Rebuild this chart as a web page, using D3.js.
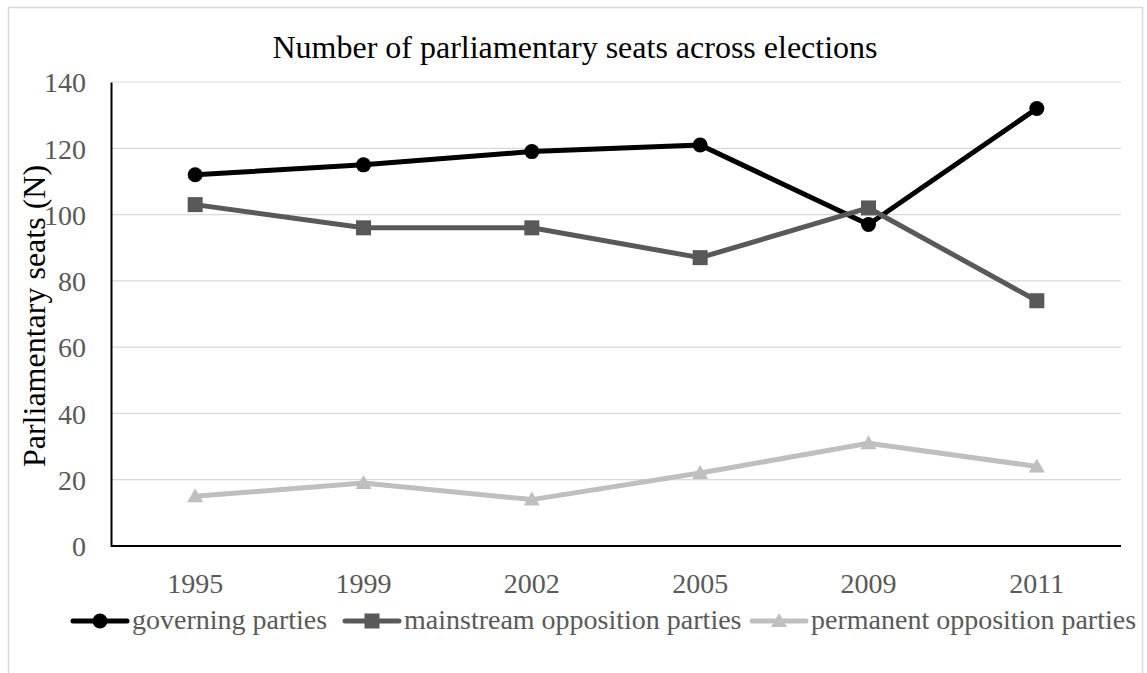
<!DOCTYPE html>
<html><head><meta charset="utf-8">
<script src="https://cdn.jsdelivr.net/npm/d3@7"></script>
<style>body{margin:0;background:#fff}svg{display:block}text{font-family:"Liberation Serif","Times New Roman",serif}</style>
</head><body>
<svg id="c" width="1147" height="673"></svg>
<script>
const years = ["1995","1999","2002","2005","2009","2011"];
const governing = [112,115,119,121,97,132];
const mainstream = [103,96,96,87,102,74];
const permanent = [15,19,14,22,31,24];
const yTicks = [0,20,40,60,80,100,120,140];
const seriesNames = ["governing parties","mainstream opposition parties","permanent opposition parties"];

const series = [
  {name:seriesNames[0], values:governing, color:"#000000", marker:"circle"},
  {name:seriesNames[1], values:mainstream, color:"#595959", marker:"square"},
  {name:seriesNames[2], values:permanent, color:"#bfbfbf", marker:"triangle"}
];

const svg = d3.select("#c");
svg.append("rect").attr("x",8.5).attr("y",7.5).attr("width",1134).attr("height",680).attr("fill","#fff").attr("stroke","#d9d9d9").attr("stroke-width",1.5);

const L=111,R=1121,T=82,B=546;
const x = d3.scaleBand().domain(years).range([L,R]);
const y = d3.scaleLinear().domain([0,140]).range([B,T]);

// gridlines
svg.append("g").selectAll("line").data(yTicks.filter(d=>d>0)).join("line")
  .attr("x1",L).attr("x2",R).attr("y1",d=>y(d)).attr("y2",d=>y(d))
  .attr("stroke","#d9d9d9").attr("stroke-width",1.2);

// y axis
const ya = svg.append("g").attr("transform",`translate(${L},0)`)
  .call(d3.axisLeft(y).tickValues(yTicks).tickSize(0).tickPadding(25));
ya.select(".domain").attr("stroke","#000").attr("stroke-width",2);
ya.selectAll("text").attr("font-size",28).attr("fill","#595959").attr("dy","0.35em");

// x axis
const xa = svg.append("g").attr("transform",`translate(0,${B})`)
  .call(d3.axisBottom(x).tickSize(0));
xa.select(".domain").attr("stroke","#000").attr("stroke-width",2).attr("d",`M${L},0H${R}`);
xa.selectAll("text").attr("font-size",28).attr("fill","#595959").attr("y",47).attr("dy","0");

const cx = d=>x(d)+x.bandwidth()/2;
const line = d3.line().x((d,i)=>cx(years[i])).y(d=>y(d));

function marker(g, type, color, px, py){
  if(type==="circle") g.append("circle").attr("cx",px).attr("cy",py).attr("r",7.5).attr("fill",color);
  else if(type==="square") g.append("rect").attr("x",px-7.5).attr("y",py-7.5).attr("width",15).attr("height",15).attr("fill",color);
  else g.append("path").attr("d",`M${px},${py-8}L${px+8},${py+6}L${px-8},${py+6}Z`).attr("fill",color);
}

series.forEach(s=>{
  const g = svg.append("g");
  g.append("path").datum(s.values).attr("d",line).attr("fill","none").attr("stroke",s.color).attr("stroke-width",5).attr("stroke-linejoin","round");
  s.values.forEach((v,i)=>marker(g,s.marker,s.color,cx(years[i]),y(v)));
});

// title
svg.append("text").attr("x",575).attr("y",58).attr("text-anchor","middle").attr("font-size",32).attr("fill","#000").text("Number of parliamentary seats across elections");

// y label
svg.append("text").attr("transform",`translate(45,${(T+B)/2+2}) rotate(-90)`).attr("text-anchor","middle").attr("font-size",32).attr("fill","#000").text("Parliamentary seats (N)");

// legend
const legX = [73,345,752];
series.forEach((s,i)=>{
  const g = svg.append("g");
  const x0 = legX[i], ly = 621;
  g.append("line").attr("x1",x0).attr("x2",x0+54).attr("y1",ly).attr("y2",ly).attr("stroke",s.color).attr("stroke-width",5).attr("stroke-linecap","round");
  marker(g,s.marker,s.color,x0+27,ly);
  g.append("text").attr("x",x0+59).attr("y",ly+8).attr("font-size",28).attr("fill","#595959").text(s.name);
});
</script>
</body></html>
